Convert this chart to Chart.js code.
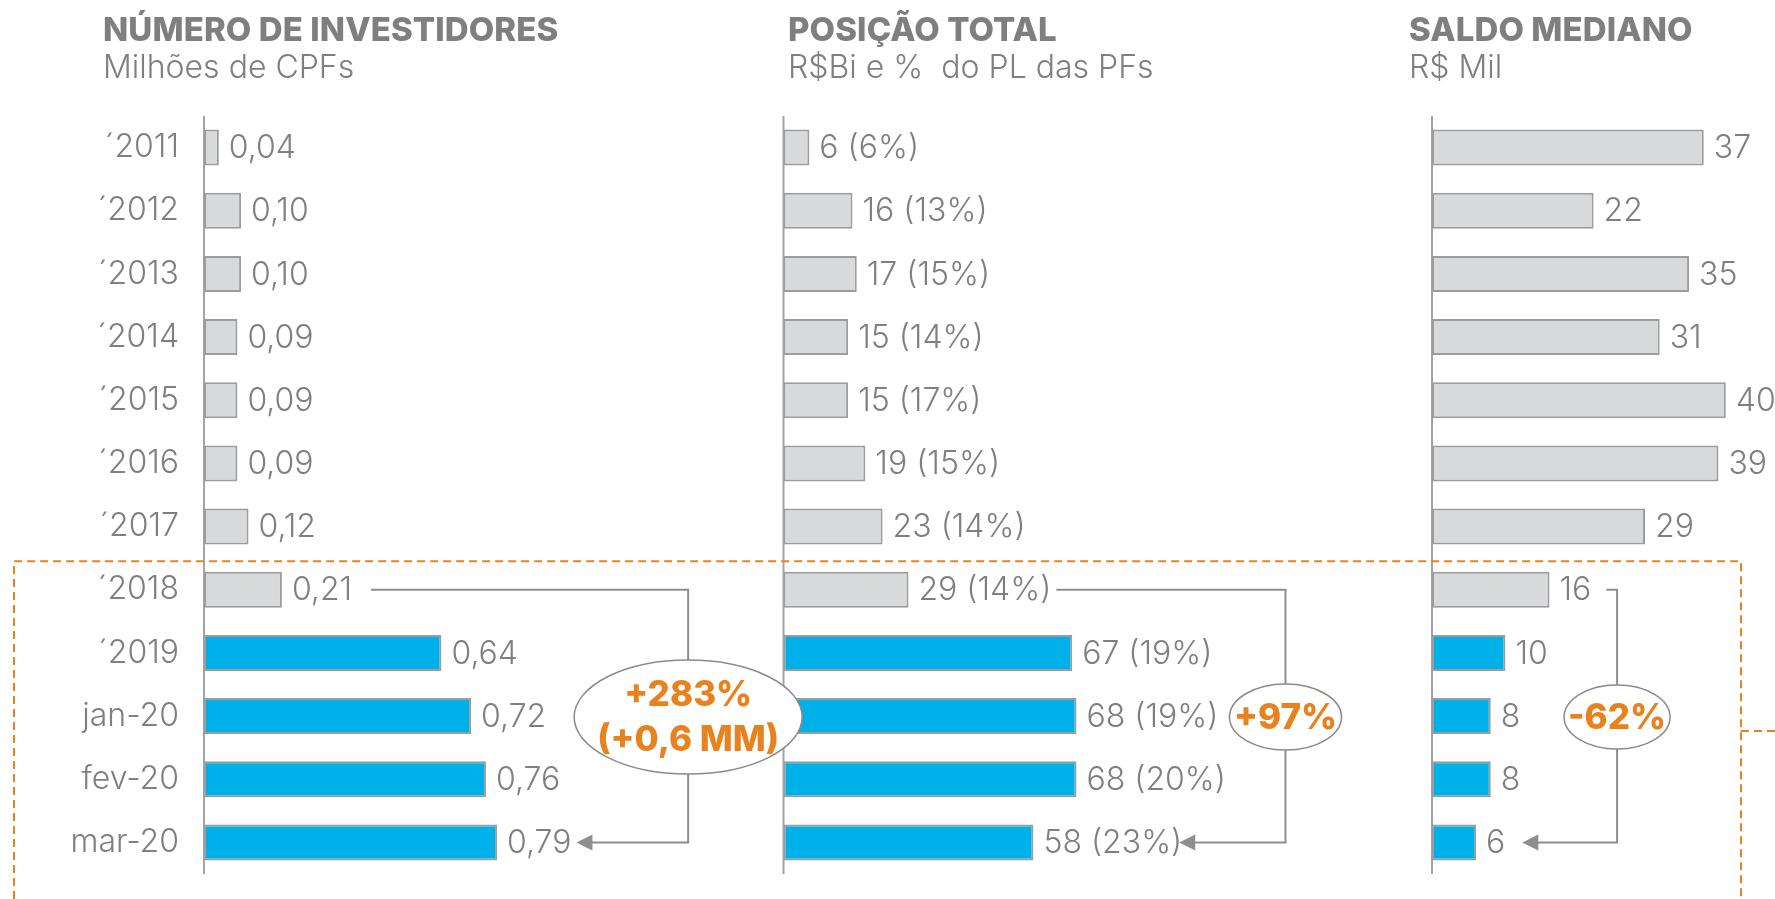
<!DOCTYPE html>
<html lang="pt-BR">
<head>
<meta charset="utf-8">
<title>Investidores pessoa física</title>
<script src="https://cdn.jsdelivr.net/npm/chart.js@4.4.1/dist/chart.umd.min.js"></script>
<style>
  html, body { margin: 0; padding: 0; background: #fff; }
  #wrap { position: relative; width: 1775px; height: 899px; overflow: hidden; }
  #chart { position: absolute; left: 0; top: 0; }
  .head { position: absolute; color: #7f7f7f; font-family: Inter, "Open Sans", sans-serif; white-space: nowrap; line-height: 1; }
  .head.t { font-weight: 800; font-size: 33px; letter-spacing: 0.1px; top: 13px; }
  .head.s { font-weight: 300; font-size: 32px; top: 51px; }
</style>
</head>
<body>
<div id="wrap">
  <canvas id="chart" width="1775" height="899"></canvas>
  <div class="head t" style="left:103px">NÚMERO DE INVESTIDORES</div>
  <div class="head s" style="left:103px">Milhões de CPFs</div>
  <div class="head t" style="left:788px">POSIÇÃO TOTAL</div>
  <div class="head s" style="left:788px">R$Bi e % &nbsp;do PL das PFs</div>
  <div class="head t" style="left:1409px">SALDO MEDIANO</div>
  <div class="head s" style="left:1409px">R$ Mil</div>
</div>
<script>
  "use strict";

  /* ------------------------------------------------------------------
   * Data
   * ------------------------------------------------------------------ */
  const categories   = ["´2011", "´2012", "´2013", "´2014", "´2015", "´2016", "´2017", "´2018", "´2019", "jan-20", "fev-20", "mar-20"];
  const investidores = [0.04, 0.10, 0.10, 0.09, 0.09, 0.09, 0.12, 0.21, 0.64, 0.72, 0.76, 0.79];
  const posicaoTotal = [6, 16, 17, 15, 15, 19, 23, 29, 67, 68, 68, 58];
  const posicaoPct   = [6, 13, 15, 14, 17, 15, 14, 14, 19, 19, 20, 23];
  const saldoMediano = [37, 22, 35, 31, 40, 39, 29, 16, 10, 8, 8, 6];
  const variacoes    = [["+283%", "(+0,6 MM)"], ["+97%"], ["-62%"]];
  const firstHighlight = 8;   // ´2019 onwards in blue
  const compareFrom    = 7;   // ´2018
  const compareTo      = 11;  // mar-20

  /* ------------------------------------------------------------------
   * Styles
   * ------------------------------------------------------------------ */
  const TEXT_GRAY = "#7f7f7f";
  const LINE_GRAY = "#8e8e8e";
  const BAR_GRAY  = "#d8d9db";
  const BAR_BLUE  = "#00b0e8";
  const ORANGE    = "#e8821e";
  const FONT      = "Inter, 'Open Sans', sans-serif";
  const LABEL_FONT = "300 32px " + FONT;
  const BOLD_FONT  = "800 35px " + FONT;

  const fills = categories.map(function (c, i) { return i >= firstHighlight ? BAR_BLUE : BAR_GRAY; });

  const labelText = [
    function (i) { return investidores[i].toFixed(2).replace(".", ","); },
    function (i) { return posicaoTotal[i] + " (" + posicaoPct[i] + "%)"; },
    function (i) { return String(saldoMediano[i]); },
  ];

  // bracket per panel: x of the vertical run (in the panel's units), gaps in px
  const brackets = [
    { axis: "x1", at: 1.305, startGap: 19, tipGap: 5,  rx: 114, ry: 57 },
    { axis: "x2", at: 116.5, startGap: 5,  tipGap: -3, rx: 56,  ry: 33 },
    { axis: "x3", at: 25.2,  startGap: 15, tipGap: 17, rx: 53,  ry: 32 },
  ];

  /* ------------------------------------------------------------------
   * Plugin: axis lines, dashed box, value labels, brackets
   * ------------------------------------------------------------------ */
  const annotate = {
    id: "annotate",
    beforeDatasetsDraw: function (chart) {
      const ctx = chart.ctx, area = chart.chartArea, y = chart.scales.y;
      ctx.save();
      ctx.strokeStyle = "#a3a3a3";
      ctx.lineWidth = 2;
      ["x1", "x2", "x3"].forEach(function (id) {
        const x = chart.scales[id].getPixelForValue(0);
        ctx.beginPath();
        ctx.moveTo(x, area.top);
        ctx.lineTo(x, area.bottom);
        ctx.stroke();
      });

      const top = (y.getPixelForValue(compareFrom - 1) + y.getPixelForValue(compareFrom)) / 2 + 3;
      ctx.strokeStyle = ORANGE;
      ctx.setLineDash([8, 5]);
      ctx.beginPath();
      ctx.moveTo(14, chart.height);
      ctx.lineTo(14, top);
      ctx.lineTo(1741, top);
      ctx.lineTo(1741, chart.height);
      ctx.moveTo(1741, 731);
      ctx.lineTo(chart.width, 731);
      ctx.stroke();
      ctx.restore();
    },
    afterDatasetsDraw: function (chart) {
      const ctx = chart.ctx, y = chart.scales.y;
      ctx.save();
      ctx.font = LABEL_FONT;
      ctx.fillStyle = TEXT_GRAY;
      ctx.textBaseline = "middle";
      ctx.textAlign = "left";

      const ends = [];
      chart.data.datasets.forEach(function (ds, d) {
        const meta = chart.getDatasetMeta(d);
        ends[d] = [];
        meta.data.forEach(function (bar, i) {
          const txt = labelText[d](i);
          const x = bar.x + 10;
          ctx.fillText(txt, x, bar.y + 1);
          ends[d][i] = x + ctx.measureText(txt).width;
        });
      });

      brackets.forEach(function (b, d) {
        const vx = chart.scales[b.axis].getPixelForValue(b.at);
        const y0 = y.getPixelForValue(compareFrom);
        const y1 = y.getPixelForValue(compareTo);
        const x0 = ends[d][compareFrom] + b.startGap;
        const tip = ends[d][compareTo] + b.tipGap;

        ctx.strokeStyle = LINE_GRAY;
        ctx.lineWidth = 2;
        ctx.beginPath();
        ctx.moveTo(x0, y0);
        ctx.lineTo(vx, y0);
        ctx.lineTo(vx, y1);
        ctx.lineTo(tip + 14, y1);
        ctx.stroke();

        ctx.fillStyle = LINE_GRAY;
        ctx.beginPath();
        ctx.moveTo(tip, y1);
        ctx.lineTo(tip + 16, y1 - 8);
        ctx.lineTo(tip + 16, y1 + 8);
        ctx.closePath();
        ctx.fill();

        const cy = y.getPixelForValue(9) + 1;
        ctx.beginPath();
        ctx.ellipse(vx, cy, b.rx, b.ry, 0, 0, Math.PI * 2);
        ctx.fillStyle = "#fff";
        ctx.fill();
        ctx.lineWidth = 1.5;
        ctx.strokeStyle = "#8a8a8a";
        ctx.stroke();

        const lines = variacoes[d];
        ctx.font = BOLD_FONT;
        ctx.fillStyle = ORANGE;
        ctx.textAlign = "center";
        lines.forEach(function (t, k) {
          ctx.fillText(t, vx, cy + (k - (lines.length - 1) / 2) * 45 + 1);
        });
        ctx.font = LABEL_FONT;
        ctx.textAlign = "left";
      });
      ctx.restore();
    },
  };

  /* ------------------------------------------------------------------
   * Chart
   * ------------------------------------------------------------------ */
  function hiddenX(max, weight) {
    return {
      type: "linear", position: "bottom", stack: "painel", stackWeight: weight,
      min: 0, max: max, display: false,
    };
  }

  new Chart(document.getElementById("chart"), {
    type: "bar",
    data: {
      labels: categories,
      datasets: [
        { data: investidores, xAxisID: "x1", backgroundColor: fills },
        { data: posicaoTotal, xAxisID: "x2", backgroundColor: fills },
        { data: saldoMediano, xAxisID: "x3", backgroundColor: fills },
      ],
    },
    options: {
      indexAxis: "y",
      responsive: false,
      animation: false,
      events: [],
      layout: { padding: { top: 116, bottom: 25, left: 0, right: 0 } },
      datasets: {
        bar: {
          grouped: false,
          categoryPercentage: 0.57,
          barPercentage: 1,
          borderWidth: 2,
          borderColor: "#9c9c9c",
          borderSkipped: false,
        },
      },
      plugins: { legend: { display: false }, tooltip: { enabled: false } },
      scales: {
        y: {
          grid: { display: false, drawTicks: false },
          border: { display: false },
          ticks: { color: TEXT_GRAY, padding: 25, font: { family: FONT, size: 32, weight: 300 } },
          afterFit: function (s) {
            s.width = 204;
            s.paddingTop = 0;
            s.paddingBottom = 0;
          },
        },
        x1: hiddenX(1.562, 579.5),
        x2: hiddenX(150.5, 648.5),
        x3: hiddenX(46.7, 343),
      },
    },
    plugins: [annotate],
  });
</script>
</body>
</html>
